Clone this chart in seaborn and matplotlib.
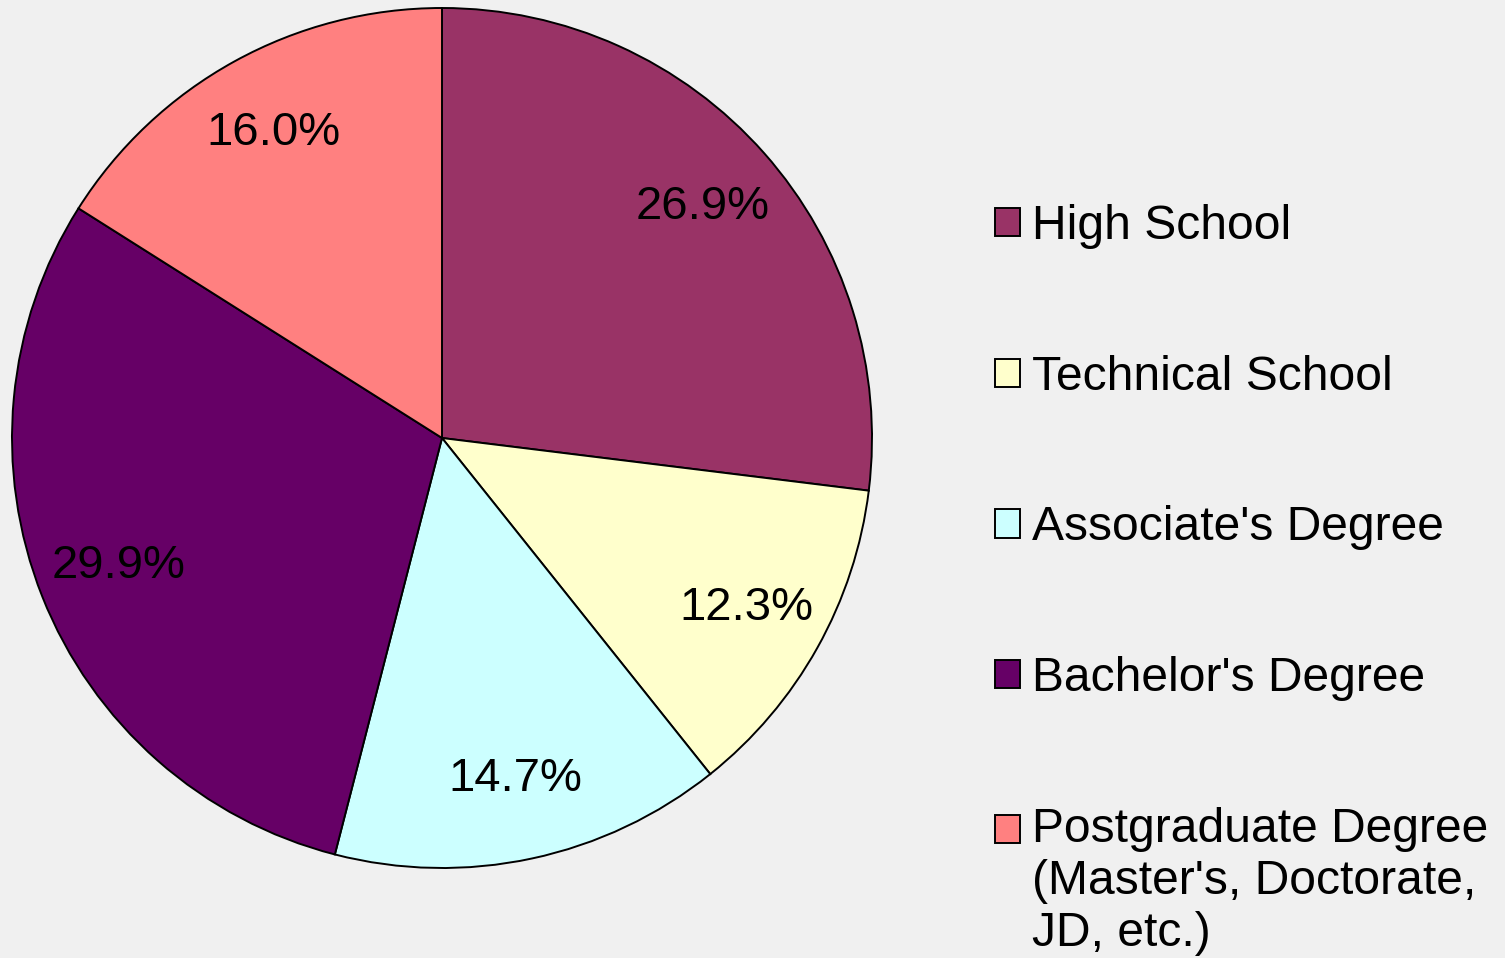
import matplotlib
matplotlib.use("Agg")
import matplotlib.pyplot as plt
import seaborn as sns

# Education level breakdown (percent of respondents)
categories = [
    "High School",
    "Technical School",
    "Associate's Degree",
    "Bachelor's Degree",
    "Postgraduate Degree\n(Master's, Doctorate,\nJD, etc.)",
]
shares = [26.9, 12.3, 14.7, 29.9, 16.0]
slice_colors = ["#993366", "#FFFFCC", "#CCFFFF", "#660066", "#FF8080"]

BG = "#F0F0F0"

sns.set_theme(style="white")
plt.rcParams["font.family"] = ["Liberation Sans", "DejaVu Sans"]
plt.rcParams["text.color"] = "black"

palette = sns.color_palette(slice_colors)

W, H, DPI = 1505, 958, 100
fig = plt.figure(figsize=(W / DPI, H / DPI), dpi=DPI, facecolor=BG)

# pie occupies a square box on the left side
cx, cy, r = 442, 438, 430
ax = fig.add_axes([(cx - r) / W, (H - cy - r) / H, 2 * r / W, 2 * r / H])
ax.set_facecolor(BG)

# slice labels print the published percentages
pct_labels = iter(f"{s:.1f}%" for s in shares)

wedges, texts, autotexts = ax.pie(
    shares,
    colors=palette,
    startangle=90,
    counterclock=False,
    autopct=lambda p: next(pct_labels),
    pctdistance=0.81,
    wedgeprops=dict(edgecolor="black", linewidth=1.4),
    textprops=dict(fontsize=34, color="black"),
)
ax.set_xlim(-1, 1)
ax.set_ylim(-1, 1)
ax.set_aspect("equal")
ax.axis("off")

fs = 34.6
leg = fig.legend(
    wedges,
    categories,
    loc="upper left",
    bbox_to_anchor=(995 / W, 1 - 204 / H),
    frameon=False,
    fontsize=fs,
    labelcolor="black",
    handlelength=0.53,
    handleheight=0.53,
    handletextpad=0.25,
    labelspacing=2.2,
    borderpad=0,
    borderaxespad=0,
)
for h in leg.legend_handles:
    h.set_edgecolor("black")
    h.set_linewidth(1.4)

# keep the marker of the wrapped entry beside its first line
last = leg.legend_handles[-1]
last.set_y(last.get_y() + fs * 1.1)

fig.savefig("out.png", dpi=DPI, facecolor=BG)
